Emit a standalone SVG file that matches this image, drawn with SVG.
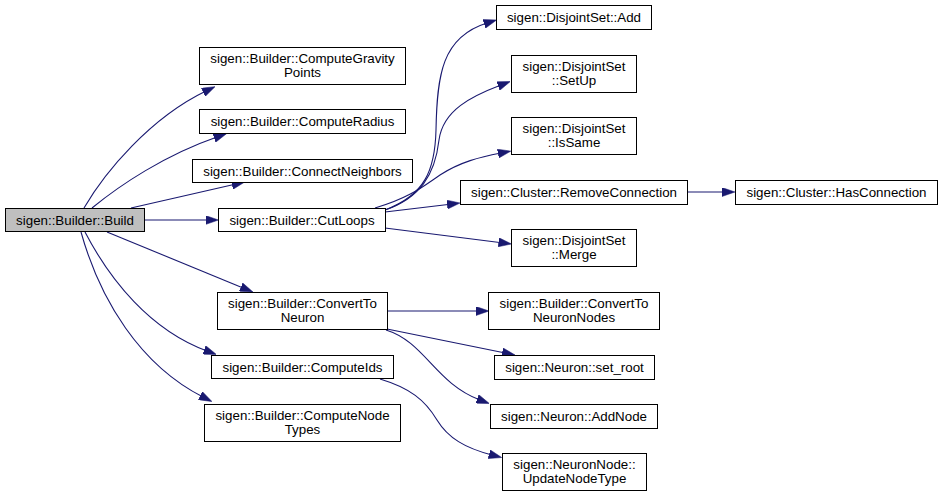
<svg xmlns="http://www.w3.org/2000/svg" width="943" height="497" viewBox="0 0 943 497">
<style>
.n rect{fill:#ffffff;stroke:#000000;stroke-width:1}
.n.root rect{fill:#bfbfbf}
.n text{font-family:"Liberation Sans",Arial,Helvetica,sans-serif;font-size:13.33px;text-anchor:middle;fill:#000000}
.e path{fill:none;stroke:#191970;stroke-width:1.1;marker-end:url(#ah)}
</style>
<defs>
<marker id="ah" viewBox="0 0 13 9" refX="3" refY="4.5" markerWidth="13" markerHeight="9" markerUnits="userSpaceOnUse" orient="auto">
<path d="M0,0 L13,4.5 L0,9 Z" fill="#191970" stroke="#191970" stroke-width="0.5"/>
</marker>
</defs>
<rect x="0" y="0" width="943" height="497" fill="#ffffff"/>
<g id="edges" class="e">
<path d="M84,208 C105,172 150,118 206,91"/>
<path d="M92,208 C120,185 165,155 217,137"/>
<path d="M131,208 L235,184.2"/>
<path d="M144,220 L208.5,220"/>
<path d="M107,232 L243.7,288.2"/>
<path d="M85,232 C110,280 150,330 207,351"/>
<path d="M81,232 C100,300 140,365 203,397"/>
<path d="M385,210 C425,195 435,170 436,130 C437,75 442,37 487,23"/>
<path d="M385,210 C420,198 435,175 439,140 C443,110 472,96 501,85"/>
<path d="M375,208 C410,198 425,185 440,175 C460,162 480,157 501,153"/>
<path d="M385,212 L450.1,204.2"/>
<path d="M385,228 L501.6,242.7"/>
<path d="M687,192 L725,192"/>
<path d="M388,311 L479,311"/>
<path d="M387,329 L505.2,353"/>
<path d="M386,330 C425,342 435,383 480,400"/>
<path d="M380,379 C410,388 425,400 437,420 C448,438 465,448 492,455"/>
</g>
<g id="node-build" class="n root"><rect x="5.5" y="208.5" width="139" height="23"/><text x="75" y="224.5">sigen::Builder::Build</text></g>
<g id="node-gravity" class="n"><rect x="199.5" y="47.5" width="206" height="37"/><text x="302.5" y="63">sigen::Builder::ComputeGravity</text><text x="302.5" y="77">Points</text></g>
<g id="node-radius" class="n"><rect x="199.5" y="109.5" width="206" height="24"/><text x="302.5" y="126">sigen::Builder::ComputeRadius</text></g>
<g id="node-connect" class="n"><rect x="192.5" y="159.5" width="220" height="23"/><text x="302.5" y="175.5">sigen::Builder::ConnectNeighbors</text></g>
<g id="node-cutloops" class="n"><rect x="218.5" y="208.5" width="167" height="23"/><text x="302" y="224.5">sigen::Builder::CutLoops</text></g>
<g id="node-convert" class="n"><rect x="217.5" y="292.5" width="170" height="37"/><text x="302.5" y="308">sigen::Builder::ConvertTo</text><text x="302.5" y="322">Neuron</text></g>
<g id="node-ids" class="n"><rect x="211.5" y="355.5" width="182" height="23"/><text x="302.5" y="371.5">sigen::Builder::ComputeIds</text></g>
<g id="node-nodetypes" class="n"><rect x="204.5" y="404.5" width="196" height="37"/><text x="302.5" y="420">sigen::Builder::ComputeNode</text><text x="302.5" y="434">Types</text></g>
<g id="node-add" class="n"><rect x="496.5" y="5.5" width="155" height="24"/><text x="574" y="22">sigen::DisjointSet::Add</text></g>
<g id="node-setup" class="n"><rect x="511.5" y="55.5" width="125" height="37"/><text x="574" y="71">sigen::DisjointSet</text><text x="574" y="85">::SetUp</text></g>
<g id="node-issame" class="n"><rect x="511.5" y="117.5" width="125" height="37"/><text x="574" y="133">sigen::DisjointSet</text><text x="574" y="147">::IsSame</text></g>
<g id="node-remove" class="n"><rect x="460.5" y="180.5" width="227" height="24"/><text x="574" y="197">sigen::Cluster::RemoveConnection</text></g>
<g id="node-merge" class="n"><rect x="511.5" y="229.5" width="125" height="37"/><text x="574" y="245">sigen::DisjointSet</text><text x="574" y="259">::Merge</text></g>
<g id="node-hasconn" class="n"><rect x="735.5" y="180.5" width="202" height="24"/><text x="836.5" y="197">sigen::Cluster::HasConnection</text></g>
<g id="node-convertnodes" class="n"><rect x="488.5" y="292.5" width="171" height="37"/><text x="574" y="308">sigen::Builder::ConvertTo</text><text x="574" y="322">NeuronNodes</text></g>
<g id="node-setroot" class="n"><rect x="494.5" y="355.5" width="160" height="24"/><text x="574.5" y="372">sigen::Neuron::set_root</text></g>
<g id="node-addnode" class="n"><rect x="490.5" y="404.5" width="167" height="24"/><text x="574" y="421">sigen::Neuron::AddNode</text></g>
<g id="node-update" class="n"><rect x="502.5" y="453.5" width="144" height="37"/><text x="574.5" y="469">sigen::NeuronNode::</text><text x="574.5" y="483">UpdateNodeType</text></g>
</svg>
